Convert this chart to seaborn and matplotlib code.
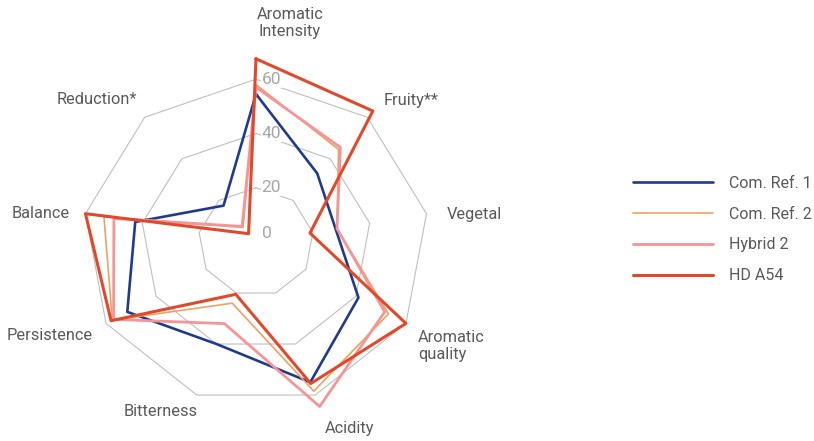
import matplotlib
matplotlib.use("Agg")
import matplotlib.pyplot as plt
import numpy as np
import pandas as pd
import seaborn as sns

# Data
categories = ["Aromatic\nIntensity", "Fruity**", "Vegetal", "Aromatic\nquality",
              "Acidity", "Bitterness", "Persistence", "Balance", "Reduction*"]
series_names = ["Com. Ref. 1", "Com. Ref. 2", "Hybrid 2", "HD A54"]
com_ref_1 = [54.5, 33, 28, 41, 55, 40, 51.5, 42.5, 17.5]
com_ref_2 = [58, 44.5, 28.5, 53, 58.5, 24, 57.5, 53.5, 7]
hybrid_2 = [57, 45.5, 28.5, 51.5, 64.5, 32, 57, 50, 7.5]
hd_a54 = [67.5, 63, 19, 60, 55.5, 20.5, 58, 60, 4]
grid_levels = [20, 40, 60]
tick_labels = ["0", "20", "40", "60"]

# styles
colors = {"Com. Ref. 1": "#213b8c", "Com. Ref. 2": "#eba360",
          "Hybrid 2": "#f59597", "HD A54": "#e2492b"}
widths = {"Com. Ref. 1": 1.9, "Com. Ref. 2": 1.2, "Hybrid 2": 2.0, "HD A54": 2.2}
text_color = "#595959"

# label anchors in pixels (x from left, y from top), ha
label_pos = [(290, 23, "center"), (384, 100, "left"), (447, 215, "left"),
             (418, 346, "left"), (350, 428, "center"), (161, 411, "center"),
             (93, 335, "right"), (70, 213, "right"), (137, 100, "right")]

sns.set_theme(style="white")
plt.rcParams["font.family"] = ["Roboto", "DejaVu Sans"]

W, H = 814, 441
fig = plt.figure(figsize=(W / 100, H / 100), dpi=100)

# polar axes: centre (256, 242) px, r=70 -> 202 px wide, 190 px tall
cx, cy, rx, ry = 256, 242, 202, 190
ax = fig.add_axes([(cx - rx) / W, (H - cy - ry) / H, 2 * rx / W, 2 * ry / H],
                  projection="polar")
ax.set_aspect("auto")
ax.set_theta_zero_location("N")
ax.set_theta_direction(-1)
ax.set_ylim(0, 70)
ax.grid(False)
ax.set_xticks([])
ax.set_yticks([])
ax.spines["polar"].set_visible(False)
ax.patch.set_alpha(0)

n = len(categories)
angles = np.deg2rad(np.arange(n) * 360 / n)
closed = np.append(angles, angles[0])

for lvl in grid_levels:
    ax.plot(closed, [lvl] * (n + 1), color="#bfbfbf", lw=0.8, zorder=1)

for i, t in enumerate(tick_labels):
    ax.annotate(t, xy=(0, int(t)), xytext=(4, 6 if t == "0" else 0),
                textcoords="offset points", ha="left", va="center",
                fontsize=12.5, color="#a6a6a6", zorder=2,
                bbox=dict(fc="white", ec="none", pad=0.6))

rows = []
for name, vals in zip(series_names, [com_ref_1, com_ref_2, hybrid_2, hd_a54]):
    vals = list(vals) + [vals[0]]
    for k, (a, v) in enumerate(zip(closed, vals)):
        rows.append({"series": name, "theta": a, "value": v, "order": k})
df = pd.DataFrame(rows)

sns.lineplot(data=df, x="theta", y="value", hue="series", size="series",
             hue_order=series_names, size_order=series_names,
             palette=colors, sizes=widths, sort=False, estimator=None,
             ax=ax, zorder=3)
ax.set_xlabel("")
ax.set_ylabel("")
ax.set_ylim(0, 70)

handles, labels = ax.get_legend_handles_labels()
ax.get_legend().remove()
fig.legend(handles, labels, loc="center left",
           bbox_to_anchor=(633 / W, 1 - 229.5 / H), frameon=False,
           borderpad=0, borderaxespad=0, handlelength=5.0, handletextpad=1.0,
           labelspacing=1.0, prop={"size": 11.5}, labelcolor=text_color)

for lab, (x, y, ha) in zip(categories, label_pos):
    fig.text(x / W, 1 - y / H, lab, ha=ha, va="center", fontsize=11.8,
             color=text_color, linespacing=1.15)

fig.savefig("out.png", dpi=100)
